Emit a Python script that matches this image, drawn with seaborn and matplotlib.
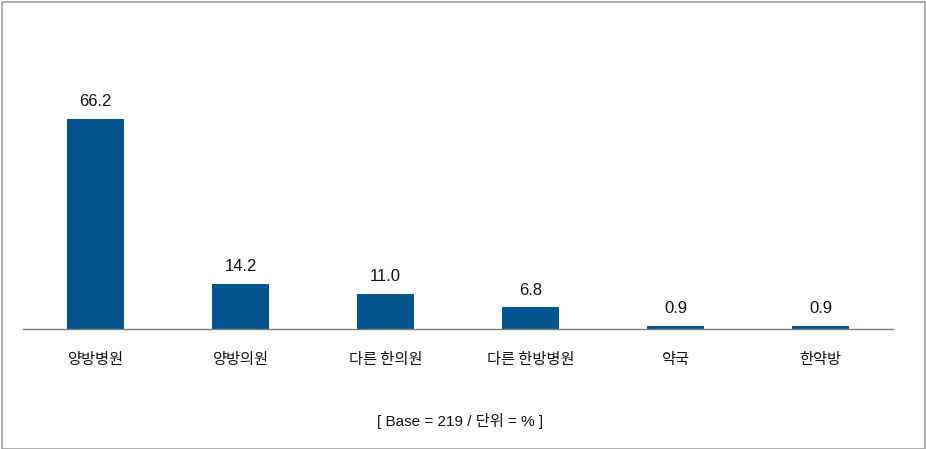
import matplotlib
matplotlib.use("Agg")
import matplotlib.pyplot as plt
import seaborn as sns
import pandas as pd
from matplotlib.patches import Rectangle

categories = ["양방병원", "양방의원", "다른 한의원", "다른 한방병원", "약국", "한약방"]
values = [66.2, 14.2, 11.0, 6.8, 0.9, 0.9]
labels = ["66.2", "14.2", "11.0", "6.8", "0.9", "0.9"]
footnote = "[ Base = 219 / 단위 = % ]"

sns.set_theme(style="white")
plt.rcParams['font.family'] = ['Noto Sans CJK KR', 'DejaVu Sans']

W, H = 926, 449
fig = plt.figure(figsize=(W / 100, H / 100), dpi=100)
ax = fig.add_axes([23 / W, 1 - 329 / H, 870 / W, 254 / H])

df = pd.DataFrame({"cat": categories, "val": values})
sns.barplot(data=df, x="cat", y="val", ax=ax, color="#02558F", width=0.39,
            saturation=1, edgecolor="none")

ax.set_xlim(-0.5, 5.5)
ax.set_ylim(0, 80)
for s in ["top", "right", "left"]:
    ax.spines[s].set_visible(False)
ax.spines["bottom"].set_color("#808080")
ax.spines["bottom"].set_linewidth(1.0)
ax.set_yticks([])
ax.set_xlabel("")
ax.set_ylabel("")
ax.tick_params(axis="x", length=0, pad=16, labelsize=11, colors="#111111")
for lab in ax.get_xticklabels():
    lab.set_fontweight("medium")

for i, (v, t) in enumerate(zip(values, labels)):
    ax.annotate(t, (i, v), xytext=(0, 7), textcoords="offset points",
                ha="center", va="bottom", fontsize=12, color="#111111",
                family=['Liberation Sans', 'DejaVu Sans'])

fig.text(460 / W, 1 - 421 / H, footnote, ha="center", va="center", fontsize=11,
         color="#111111", family=['Liberation Sans', 'Noto Sans CJK KR'])

fig.patches.append(Rectangle((2 / W, 0), 1 - 3 / W, 1 - 2 / H, transform=fig.transFigure,
                             fill=False, edgecolor="#a0a0a0", linewidth=1.2))

fig.savefig("out.png", dpi=100)
